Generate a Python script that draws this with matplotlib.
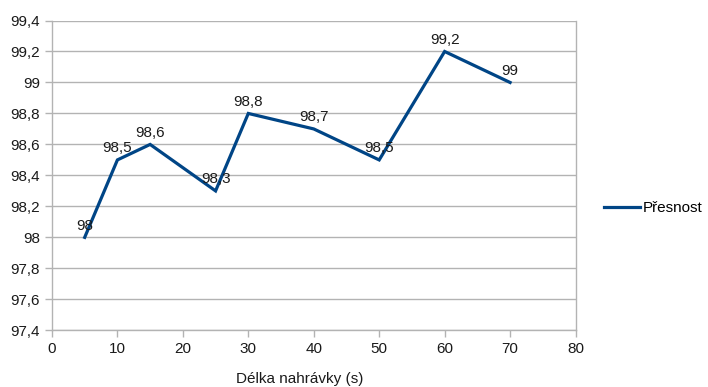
import matplotlib.pyplot as plt
from matplotlib.ticker import FuncFormatter, MultipleLocator

plt.rcParams['font.family'] = ['Liberation Sans', 'DejaVu Sans']

delka = [5, 10, 15, 25, 30, 40, 50, 60, 70]
presnost = [98, 98.5, 98.6, 98.3, 98.8, 98.7, 98.5, 99.2, 99]
popisky = ['98', '98,5', '98,6', '98,3', '98,8', '98,7', '98,5', '99,2', '99']

grid_c = '#b3b3b3'
line_c = '#004586'
text_c = '#1a1a1a'

fig = plt.figure(figsize=(7.08, 3.87), dpi=100)
ax = fig.add_axes([0.0734, 0.1465, 0.7395, 0.8005])

ax.plot(delka, presnost, color=line_c, linewidth=2.3, label='Přesnost',
        solid_joinstyle='miter')
for x, y, t in zip(delka, presnost, popisky):
    ax.annotate(t, (x, y), textcoords='offset points', xytext=(0, 3.5),
                ha='center', va='bottom', fontsize=11, color=text_c)

ax.set_xlim(0, 80)
ax.set_ylim(97.4, 99.4)
ax.xaxis.set_major_locator(MultipleLocator(10))
ax.yaxis.set_major_locator(MultipleLocator(0.2))
ax.yaxis.set_major_formatter(FuncFormatter(lambda v, p: f'{v:.1f}'.replace('.', ',').replace(',0', '')))

ax.grid(axis='y', color=grid_c, linewidth=1)
ax.set_axisbelow(True)
for s in ['left', 'right', 'bottom']:
    ax.spines[s].set_color(grid_c)
    ax.spines[s].set_linewidth(1)
ax.spines['top'].set_visible(False)
ax.tick_params(colors=grid_c, labelcolor=text_c, labelsize=11, length=5, width=1)

fig.text(300 / 708, 1 - 379 / 387, 'Délka nahrávky (s)', ha='center', va='center',
         fontsize=11, color=text_c)

fig.legend(loc='center left', bbox_to_anchor=(604 / 708, 1 - 208 / 387), frameon=False,
           fontsize=11, handlelength=2.35, handletextpad=0.2, borderpad=0,
           borderaxespad=0)

fig.savefig('out.png', dpi=100)
